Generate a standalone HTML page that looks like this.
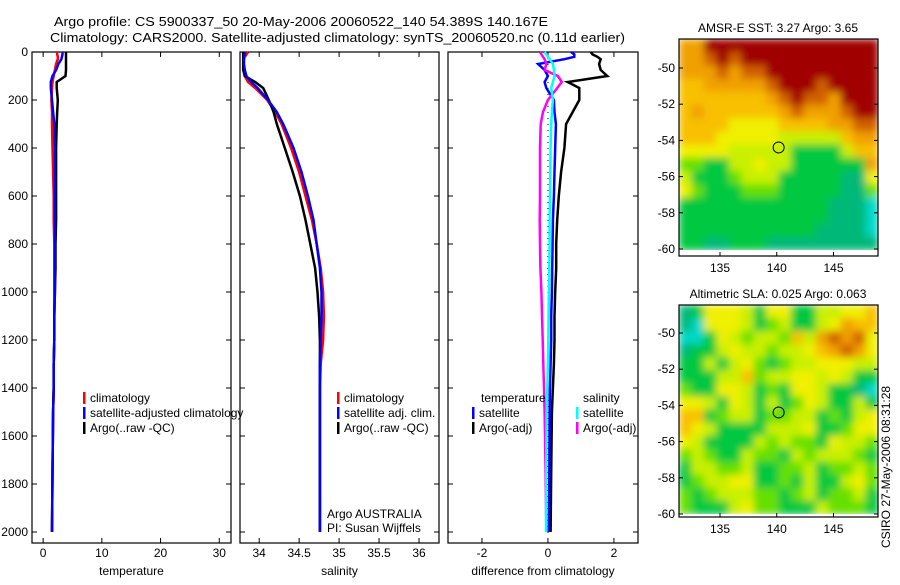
<!DOCTYPE html>
<html><head><meta charset="utf-8"><style>
body{margin:0;background:#fff;}
svg text{font-family:"Liberation Sans",sans-serif;}
</style></head><body>
<svg id="fig" width="900" height="580" viewBox="0 0 900 580" xmlns="http://www.w3.org/2000/svg">
<defs>
<filter id="blur" x="-5%" y="-5%" width="110%" height="110%"><feGaussianBlur stdDeviation="4" edgeMode="duplicate"/></filter>
<clipPath id="clipSst"><rect x="679" y="39" width="199" height="211"/></clipPath>
<clipPath id="clipSla"><rect x="679" y="305" width="199" height="209"/></clipPath>
</defs>
<rect width="900" height="580" fill="#fff"/>
<text x="54" y="26" font-size="13" textLength="494" lengthAdjust="spacingAndGlyphs">Argo profile: CS 5900337_50 20-May-2006 20060522_140 54.389S 140.167E</text>
<text x="50" y="42" font-size="13" textLength="575" lengthAdjust="spacingAndGlyphs">Climatology: CARS2000. Satellite-adjusted climatology: synTS_20060520.nc (0.11d earlier)</text>
<g id="plots"></g>
<text font-size="12" transform="translate(890,548) rotate(-90)">CSIRO 27-May-2006 08:31:28</text>
</svg>
<script>
const depths=[0,10,20,30,50,75,100,125,150,200,250,300,400,500,600,700,800,900,1000,1100,1200,1300,1400,1500,1750,2000];
const tempArgo=[3.9,3.9,3.9,3.9,3.9,3.9,3.8,2.3,2.3,2.5,2.4,2.3,2.2,2.2,2.2,2.2,2.1,2.1,2.0,1.9,1.9,1.8,1.8,1.7,1.6,1.5];
const tempClim=[2.4,2.4,2.5,2.5,2.2,2.0,1.8,1.6,1.5,1.4,1.5,1.5,1.6,1.7,1.8,1.8,1.9,1.9,1.9,1.9,1.9,1.8,1.8,1.7,1.6,1.5];
const tempSat=[3.3,3.3,3.2,3.1,2.6,2.2,1.6,1.3,1.3,1.5,1.7,1.9,2.0,2.0,2.0,2.0,2.0,2.0,2.0,1.9,1.9,1.8,1.8,1.7,1.6,1.5];
const salArgo=[33.80,33.80,33.80,33.80,33.80,33.80,33.82,33.95,34.05,34.12,34.18,34.22,34.32,34.42,34.51,34.58,34.64,34.70,34.73,34.75,34.76,34.76,34.76,34.76,34.76,34.76];
const salClim=[33.86,33.84,33.82,33.81,33.80,33.81,33.82,33.86,33.95,34.10,34.20,34.28,34.40,34.50,34.58,34.66,34.72,34.77,34.80,34.81,34.80,34.77,34.76,34.76,34.76,34.76];
const salSat=[33.82,33.82,33.81,33.81,33.81,33.82,33.84,33.90,33.98,34.11,34.22,34.30,34.43,34.53,34.61,34.68,34.72,34.76,34.78,34.78,34.77,34.76,34.76,34.76,34.76,34.76];
const dTempArgo=[1.3,1.35,1.5,1.6,1.55,1.6,1.8,0.6,0.95,0.95,0.75,0.55,0.5,0.4,0.33,0.28,0.25,0.25,0.22,0.2,0.2,0.18,0.15,0.12,0.1,0.08];
const dTempSat=[0.7,0.8,0.8,0.5,-0.3,-0.1,0.0,-0.1,-0.05,0.18,0.2,0.24,0.22,0.2,0.18,0.15,0.14,0.13,0.12,0.1,0.1,0.08,0.06,0.05,0.04,0.03];
const dSalArgo=[-0.24,-0.2,-0.15,-0.1,-0.05,-0.1,0.3,0.42,0.28,0.0,-0.15,-0.22,-0.24,-0.24,-0.24,-0.25,-0.24,-0.23,-0.2,-0.18,-0.16,-0.14,-0.12,-0.1,-0.07,-0.05];
const dSalSat=[-0.1,-0.05,0.0,0.05,0.15,0.18,0.2,0.15,0.1,0.15,0.12,0.1,0.08,0.07,0.06,0.05,0.05,0.04,0.03,0.02,0.01,0.0,-0.02,-0.04,-0.05,-0.06];
const depthTicks=[0,200,400,600,800,1000,1200,1400,1600,1800,2000];
const tempTicks=[0,10,20,30];
const salTicks=[34,34.5,35,35.5,36];
const diffTicks=[-2,0,2];
const lonTicks=[135,140,145];
const latTicks=[-50,-52,-54,-56,-58,-60];
const sstGrid=["7799999999999999","7789899999999999","7778788999999999","6677777899989999","6666666789887999","6766666678777899","6666555566667788","6665555544444677","5555444442222466","3322445442222227","4222344422222115","5322233322222113","2222222222221110","2222222222221110","2222222222211110","2211222111111111"];
const slaGrid=["1255542552244556","1055542342245766","0025434436478785","1224544344567875","2242453234455544","2224463445545422","3225542325542210","5542542423542242","6623442334423245","6542222444522355","5422224343325443","3432243324344432","2443342233423343","2344552232422453","3234443323423342","3222453322243332"];
const cmap=["#00d8c8","#00b878","#00c840","#66e000","#c8f000","#f0f000","#f8c000","#f0a000","#d06000","#a00000"];
const argoLon=140.167, argoLat=-54.389;

const NS="http://www.w3.org/2000/svg";
const root=document.getElementById('plots');
function el(tag,attrs,parent){const e=document.createElementNS(NS,tag);for(const k in attrs)e.setAttribute(k,attrs[k]);(parent||root).appendChild(e);return e;}
const yD=d=>52+d*0.24;
function panel(name,x0,x1,xmin,xmax,ticks,fmt,xlabel,showY){
  const g=el('g',{});
  
  
  const xs=v=>x0+(v-xmin)/(xmax-xmin)*(x1-x0);
  const top=52,bot=543;
  el('rect',{x:x0,y:top,width:x1-x0,height:bot-top,fill:'none',stroke:'#000','stroke-width':1.2},g);
  ticks.forEach(t=>{const x=xs(t);
    el('line',{x1:x,x2:x,y1:bot,y2:bot-5,stroke:'#000'},g);
    el('line',{x1:x,x2:x,y1:top,y2:top+5,stroke:'#000'},g);
    const tl=el('text',{x:x,y:bot+14,'font-size':12,'text-anchor':'middle'},g);tl.textContent=fmt(t);
    
    
  });
  depthTicks.forEach(d=>{const y=yD(d);
    el('line',{x1:x0,x2:x0+5,y1:y,y2:y,stroke:'#000'},g);
    el('line',{x1:x1,x2:x1-5,y1:y,y2:y,stroke:'#000'},g);
    if(showY){const tl=el('text',{x:x0-4,y:y+4,'font-size':12,'text-anchor':'end'},g);tl.textContent=d;
      
      }
  });
  const xl=el('text',{x:(x0+x1)/2,y:575,'font-size':12,'text-anchor':'middle'},g);xl.textContent=xlabel;
  
  
  return {g,xs};
}
function line(p,vals,color,w,name){
  const pts=vals.map((v,i)=>p.xs(v).toFixed(1)+','+yD(depths[i]).toFixed(1)).join(' ');
  const pl=el('polyline',{points:pts,fill:'none',stroke:color,'stroke-width':w},p.g);
  
  
}
function legend(g,x,y,color,label){
  if(color){el('rect',{x:x,y:y-10,width:2.5,height:12,fill:color},g);}
  const t=el('text',{x:x+7,y:y,'font-size':12},g);t.textContent=label;
  
  
}
const p1=panel('temperature-panel',32,231,-1.9,32,tempTicks,t=>t,'temperature',true);
line(p1,tempClim,'#f00',2.5,'temp-climatology-line');
line(p1,tempArgo,'#000',2.5,'temp-argo-line');
line(p1,tempSat,'#00f',2.5,'temp-satellite-line');
legend(p1.g,83,402,'#f00','climatology');
legend(p1.g,83,417,'#00f','satellite-adjusted climatology');
legend(p1.g,83,432,'#000','Argo(..raw -QC)');
const p2=panel('salinity-panel',240,439,33.76,36.25,salTicks,t=>t,'salinity',false);
line(p2,salClim,'#f00',2.5,'sal-climatology-line');
line(p2,salArgo,'#000',2.5,'sal-argo-line');
line(p2,salSat,'#00f',2.5,'sal-satellite-line');
legend(p2.g,337,402,'#f00','climatology');
legend(p2.g,337,417,'#00f','satellite adj. clim.');
legend(p2.g,337,432,'#000','Argo(..raw -QC)');
legend(p2.g,320,518,null,'Argo AUSTRALIA');
legend(p2.g,320,532,null,'PI: Susan Wijffels');
const p3=panel('difference-panel',448,638,-3.03,2.73,diffTicks,t=>t,'difference from climatology',false);
el('line',{x1:p3.xs(0),x2:p3.xs(0),y1:52,y2:yD(2020),stroke:'#000','stroke-dasharray':'1,5'},p3.g);
line(p3,dTempArgo,'#000',2.5,'diff-temp-argo-line');
line(p3,dTempSat,'#00f',2.5,'diff-temp-satellite-line');
line(p3,dSalArgo,'#f0f',2.5,'diff-sal-argo-line');
line(p3,dSalSat,'#0ff',2.5,'diff-sal-satellite-line');
legend(p3.g,474,402,null,'temperature');
legend(p3.g,576,402,null,'salinity');
legend(p3.g,472,417,'#00f','satellite');
legend(p3.g,472,432,'#000','Argo(-adj)');
legend(p3.g,576,417,'#0ff','satellite');
legend(p3.g,576,432,'#f0f','Argo(-adj)');

function map(name,grid,fy0,fy1,imgBot,lat50,lat60,title,clip){
  const g=el('g',{});
  
  
  const fx0=679,fx1=878;
  const xs=lon=>720+(lon-135)*11.35;
  const ys=lat=>lat50+(-50-lat)/10*(lat60-lat50);
  const rows=grid.length, cols=grid[0].length;
  const cw=(fx1-fx0)/cols, ch=(imgBot-fy0)/rows;
  const cg=el('g',{'clip-path':'url(#'+clip+')'},g);
  const bg=el('g',{filter:'url(#blur)'},cg);
  grid.forEach((r,i)=>{for(let j=0;j<cols;j++){
    el('rect',{x:(fx0+j*cw).toFixed(2),y:(fy0+i*ch).toFixed(2),width:(cw+0.6).toFixed(2),height:(ch+0.6).toFixed(2),fill:cmap[+r[j]]},bg);
  }});
  el('rect',{x:fx0,y:fy0,width:fx1-fx0,height:fy1-fy0,fill:'none',stroke:'#000','stroke-width':1.2},g);
  lonTicks.forEach(l=>{const x=xs(l);
    el('line',{x1:x,x2:x,y1:fy1,y2:fy1-4,stroke:'#000'},g);
    const t=el('text',{x:x,y:fy1+16,'font-size':12,'text-anchor':'middle'},g);t.textContent=l;
    
    });
  latTicks.forEach(l=>{const y=ys(l);
    el('line',{x1:fx0,x2:fx0+4,y1:y,y2:y,stroke:'#000'},g);
    el('line',{x1:fx1,x2:fx1-4,y1:y,y2:y,stroke:'#000'},g);
    const t=el('text',{x:fx0-4,y:y+4,'font-size':12,'text-anchor':'end'},g);t.textContent=l;
    
    });
  const c=el('circle',{cx:xs(argoLon),cy:ys(argoLat),r:5.5,fill:'none',stroke:'#000','stroke-width':1},g);
  
  
  const t=el('text',{x:778,y:fy0-7,'font-size':12,'text-anchor':'middle'},g);t.textContent=title;
  
  
}
map('sst-map',sstGrid,39,256,250,68,249,'AMSR-E SST: 3.27 Argo: 3.65','clipSst');
map('sla-map',slaGrid,305,517,514,333,514,'Altimetric SLA: 0.025 Argo: 0.063','clipSla');
</script>
</body></html>
